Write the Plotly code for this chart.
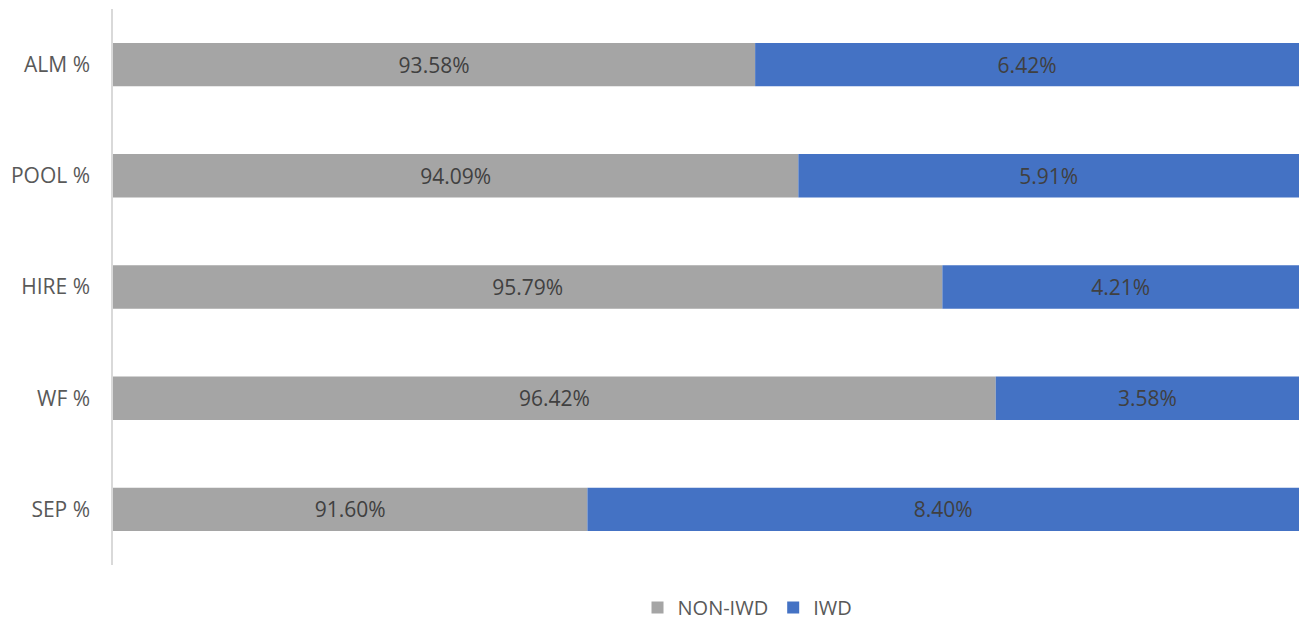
import plotly.graph_objects as go

categories = ["ALM %", "POOL %", "HIRE %", "WF %", "SEP %"]
non_iwd = [93.58, 94.09, 95.79, 96.42, 91.60]
iwd = [6.42, 5.91, 4.21, 3.58, 8.40]
axis_min = 86

fig = go.Figure()
fig.add_trace(go.Bar(
    y=categories, x=[v - axis_min for v in non_iwd], base=axis_min,
    orientation="h", name="NON-IWD", marker=dict(color="#A5A5A5", line=dict(width=0)),
    text=[f"{v:.2f}%" for v in non_iwd], textposition="inside", insidetextanchor="middle",
    textfont=dict(color="#404040", size=21, family="Open Sans"),
    hoverinfo="skip",
))
fig.add_trace(go.Bar(
    y=categories, x=iwd, base=non_iwd,
    orientation="h", name="IWD", marker=dict(color="#4472C4", line=dict(width=0)),
    text=[f"{v:.2f}%" for v in iwd], textposition="inside", insidetextanchor="middle",
    textfont=dict(color="#404040", size=21, family="Open Sans"),
    hoverinfo="skip",
))

fig.update_layout(
    width=1303, height=627,
    margin=dict(l=113, r=4, t=9, b=62),
    barmode="overlay", bargap=0.61,
    plot_bgcolor="white", paper_bgcolor="white",
    font=dict(family="Open Sans", color="#595959", size=21),
    uniformtext=dict(mode="show", minsize=10),
    xaxis=dict(range=[axis_min, 100], visible=False, showgrid=False, zeroline=False),
    yaxis=dict(categoryorder="array", categoryarray=categories[::-1],
               showline=True, linecolor="#D9D9D9", linewidth=1.5,
               ticks="", ticklabelstandoff=17, showgrid=False,
               tickfont=dict(size=21, color="#595959")),
    legend=dict(orientation="h", x=0.535, xanchor="center",
                yref="container", y=0.0, yanchor="bottom",
                font=dict(size=20, color="#595959"), itemwidth=30, traceorder="normal"),
    showlegend=True,
)

fig.write_html("out.html")
